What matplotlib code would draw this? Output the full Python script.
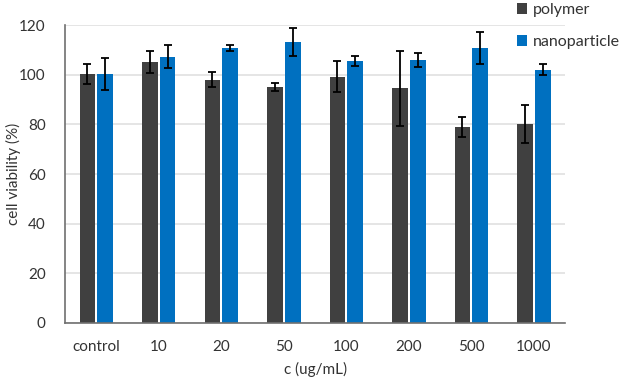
import numpy as np
import matplotlib; matplotlib.use("Agg")
import matplotlib.pyplot as plt

plt.rcParams["font.family"] = ["Lato", "DejaVu Sans"]

# ── Data ──────────────────────────────────────────────────────────────
categories   = ["control", "10", "20", "50", "100", "200", "500", "1000"]
polymer      = [100.3, 105.1, 98.0, 95.1, 99.2, 94.5, 78.9, 80.3]
polymer_err  = [4.0, 4.6, 3.0, 1.5, 6.3, 15.0, 4.0, 7.7]
nano         = [100.2, 107.3, 110.9, 113.2, 105.6, 106.0, 110.9, 102.1]
nano_err     = [6.4, 4.7, 1.2, 5.8, 1.9, 2.9, 6.5, 2.3]

# ── Figure ────────────────────────────────────────────────────────────
fig = plt.figure(figsize=(6.19, 3.80), dpi=100)
ax = fig.add_axes([0.105, 0.15, 0.808, 0.784])

x = np.arange(len(categories))
w = 0.25
gap = 0.035
ekw = dict(ecolor="black", elinewidth=1.3, capsize=3, capthick=1.3)
ax.bar(x - (w + gap) / 2, polymer, w, yerr=polymer_err, color="#404040",
       label="polymer", error_kw=ekw, zorder=2)
ax.bar(x + (w + gap) / 2, nano, w, yerr=nano_err, color="#0070C0",
       label="nanoparticle", error_kw=ekw, zorder=2)

ax.set_xlim(-0.5, len(categories) - 0.5)
ax.set_ylim(0, 120)
ax.set_yticks(np.arange(0, 121, 20))
ax.set_xticks(x)
ax.set_xticklabels(categories)
ax.tick_params(length=0, labelsize=11, colors="#333333")
ax.tick_params(axis="x", pad=12)
ax.tick_params(axis="y", pad=14)
ax.yaxis.grid(True, color="#e0e0e0", lw=1.2, zorder=0)
ax.set_axisbelow(True)
for sp in ["top", "right"]:
    ax.spines[sp].set_visible(False)
ax.spines["left"].set_color("#707070")
ax.spines["bottom"].set_color("#707070")
ax.spines["left"].set_linewidth(1.2)
ax.spines["bottom"].set_linewidth(1.2)

ax.set_xlabel("c (ug/mL)", fontsize=11, color="#333333", labelpad=6)
fig.text(13 / 619, 1 - 174 / 380, "cell viability (%)", rotation=90,
         ha="center", va="center", fontsize=11, color="#333333")

ax.legend(loc="upper left", bbox_to_anchor=(517 / 619, 1 - 3 / 380),
          bbox_transform=fig.transFigure, borderaxespad=0, borderpad=0,
          frameon=False, fontsize=11.5, handlelength=0.65, handleheight=0.65,
          handletextpad=0.35, labelspacing=1.15, labelcolor="#333333")

fig.savefig("out.png", dpi=100, facecolor="white")
